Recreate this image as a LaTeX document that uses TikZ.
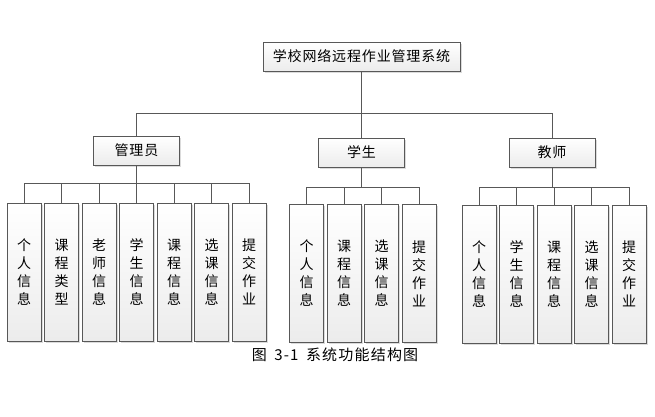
\documentclass[tikz,border=0pt]{standalone}
\usepackage{fontspec}
\setmainfont{Noto Sans CJK SC}
\newfontfamily\titlefont[LetterSpace=6]{Noto Sans CJK SC}
\newfontfamily\capfont[LetterSpace=8]{Noto Sans CJK SC}
\usetikzlibrary{positioning, shadows}
\definecolor{boxline}{RGB}{88,88,88}

\begin{document}
\begin{tikzpicture}[
    x=1pt, y=-1pt,
    node distance=2.9pt,
    base/.style={rectangle, draw=boxline, semithick, inner sep=0pt, top color=white, bottom color=gray!15,
        drop shadow={shadow xshift=1.6pt, shadow yshift=-1.6pt, fill=gray!40, opacity=0.7}},
    rootbox/.style={base, minimum width=197pt, minimum height=29pt, font=\titlefont\fontsize{14}{16}\selectfont},
    rolebox/.style={base, minimum width=86pt, minimum height=29pt, font=\titlefont\fontsize{14}{16}\selectfont},
    leafbox/.style={base, minimum width=34pt, minimum height=138pt, align=center, font=\fontsize{14}{18}\selectfont},
    link/.style={draw=boxline, semithick}
]
    \useasboundingbox (0,0) rectangle (655,416);

    \node[rootbox] (root) at (361.5,56.5) {学校网络远程作业管理系统};
    \node[rolebox] (admin) at (136.5,150.5) {管理员};
    \node[rolebox] (stud) at (361.5,152.5) {学生};
    \node[rolebox] (teach) at (552,152.5) {教师};

    \node[leafbox] (a1) at (24,272) {个\\人\\信\\息};
    \node[leafbox, right=of a1] (a2) {课\\程\\类\\型};
    \node[leafbox, right=of a2] (a3) {老\\师\\信\\息};
    \node[leafbox, right=of a3] (a4) {学\\生\\信\\息};
    \node[leafbox, right=of a4] (a5) {课\\程\\信\\息};
    \node[leafbox, right=of a5] (a6) {选\\课\\信\\息};
    \node[leafbox, right=of a6] (a7) {提\\交\\作\\业};

    \node[leafbox] (s1) at (306.5,273.5) {个\\人\\信\\息};
    \node[leafbox, right=of s1] (s2) {课\\程\\信\\息};
    \node[leafbox, right=of s2] (s3) {选\\课\\信\\息};
    \node[leafbox, right=of s3] (s4) {提\\交\\作\\业};

    \node[leafbox] (t1) at (479,274) {个\\人\\信\\息};
    \node[leafbox, right=of t1] (t2) {学\\生\\信\\息};
    \node[leafbox, right=of t2] (t3) {课\\程\\信\\息};
    \node[leafbox, right=of t3] (t4) {选\\课\\信\\息};
    \node[leafbox, right=of t4] (t5) {提\\交\\作\\业};

    \node[font=\capfont\fontsize{15}{17}\selectfont] (caption) at (335,355) {图\enspace 3-1\enspace 系统功能结构图};

    \draw[link] (root.south) -- ++(0,42) -| (admin.north);
    \draw[link] (root.south) -- (stud.north);
    \draw[link] (root.south) -- ++(0,42) -| (teach.north);

    \draw[link] (admin.south) -- ++(0,18) -| (a1.north);
    \draw[link] (admin.south) -- ++(0,18) -| (a2.north);
    \draw[link] (admin.south) -- ++(0,18) -| (a3.north);
    \draw[link] (admin.south) -- (a4.north);
    \draw[link] (admin.south) -- ++(0,18) -| (a5.north);
    \draw[link] (admin.south) -- ++(0,18) -| (a6.north);
    \draw[link] (admin.south) -- ++(0,18) -| (a7.north);

    \draw[link] (stud.south) -- ++(0,20) -| (s1.north);
    \draw[link] (stud.south) -- ++(0,20) -| (s2.north);
    \draw[link] (stud.south) -- ++(0,20) -| (s3.north);
    \draw[link] (stud.south) -- ++(0,20) -| (s4.north);

    \draw[link] (teach.south) -- ++(0,20) -| (t1.north);
    \draw[link] (teach.south) -- ++(0,20) -| (t2.north);
    \draw[link] (teach.south) -- ++(0,20) -| (t3.north);
    \draw[link] (teach.south) -- ++(0,20) -| (t4.north);
    \draw[link] (teach.south) -- ++(0,20) -| (t5.north);
\end{tikzpicture}
\end{document}
